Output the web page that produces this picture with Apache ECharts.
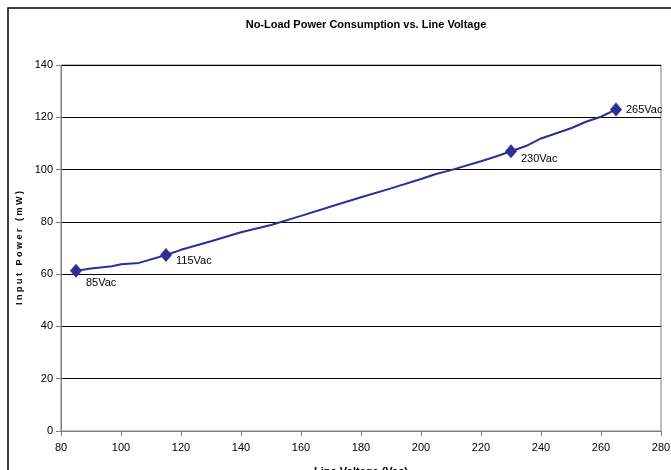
<!DOCTYPE html>
<html>
<head>
<meta charset="utf-8">
<script src="https://cdn.jsdelivr.net/npm/echarts@6/dist/echarts.min.js"></script>
<style>
  html, body { margin: 0; padding: 0; background: #fff; }
  #chart { width: 671px; height: 470px; }
</style>
</head>
<body>
<div id="chart"></div>
<script>
// measured curve (Vac -> mW)
const lineVolts = [85, 90, 97, 100, 106, 115, 120, 130, 140, 150, 160, 170, 180, 190, 200, 205, 210, 220, 225, 230, 235, 240, 250, 255, 260, 265];
const linePower = [61.3, 62.2, 63.0, 63.8, 64.3, 67.3, 69.3, 72.6, 76.0, 78.8, 82.3, 85.9, 89.4, 92.8, 96.4, 98.3, 99.8, 103.2, 105.0, 107.0, 109.0, 111.9, 115.8, 118.3, 120.2, 123.0];

// marked operating points
const markVolts = [85, 115, 230, 265];
const markPower = [61.3, 67.3, 107.0, 123.0];
const markNames = ['85Vac', '115Vac', '230Vac', '265Vac'];
const markOffsets = [[0, 12], [0, 6], [0, 8], [0, 1]];

const chart = echarts.init(document.getElementById('chart'));
const navy = '#2e2e96';
const font = 'Liberation Sans, Arial, sans-serif';

chart.setOption({
  animation: false,
  backgroundColor: '#fff',
  textStyle: { fontFamily: font },
  title: {
    text: 'No-Load Power Consumption vs. Line Voltage',
    left: 361,
    top: 14,
    textAlign: 'center',
    textStyle: { fontSize: 11, fontWeight: 'bold', color: '#000', fontFamily: font },
  },
  graphic: [
    {
      type: 'rect',
      shape: { x: 8, y: 8, width: 700, height: 500 },
      style: { fill: 'none', stroke: '#000', lineWidth: 1.5 },
      silent: true,
    },
  ],
  grid: {
    left: 61, right: 10, top: 65, bottom: 39,
    outerBoundsMode: 'none',
    show: true, borderColor: '#808080', borderWidth: 1,
  },
  xAxis: {
    type: 'value',
    min: 80,
    max: 280,
    interval: 20,
    name: 'Line Voltage (Vac)',
    nameLocation: 'middle',
    nameGap: 35,
    nameTextStyle: { fontSize: 11, fontWeight: 'bold', color: '#000', fontFamily: font },
    axisLine: { lineStyle: { color: '#808080', width: 1 } },
    axisTick: { show: true, length: 5, lineStyle: { color: '#808080' } },
    axisLabel: { fontSize: 11, color: '#000', margin: 11, fontFamily: font },
    splitLine: { show: false },
  },
  yAxis: {
    type: 'value',
    min: 0,
    max: 140,
    interval: 20,
    name: 'I n p u t   P o w e r   ( m W )',
    nameLocation: 'middle',
    nameGap: 34,
    nameRotate: 90,
    nameTextStyle: { fontSize: 9, fontWeight: 'bold', color: '#000', fontFamily: font },
    axisLine: { show: true, lineStyle: { color: '#808080', width: 1 } },
    axisTick: { show: true, length: 5, lineStyle: { color: '#808080' } },
    axisLabel: { fontSize: 11, color: '#000', margin: 8, fontFamily: font },
    splitLine: { show: true, lineStyle: { color: '#000', width: 1 } },
  },
  series: [
    {
      type: 'line',
      data: lineVolts.map((v, i) => [v, linePower[i]]),
      showSymbol: false,
      symbol: 'none',
      lineStyle: { color: navy, width: 2 },
      z: 3,
    },
    {
      type: 'scatter',
      data: markVolts.map((v, i) => ({
        value: [v, markPower[i]],
        name: markNames[i],
        label: { offset: markOffsets[i] },
      })),
      symbol: 'diamond',
      symbolSize: [12, 14],
      itemStyle: { color: navy, opacity: 1 },
      label: {
        show: true,
        position: 'right',
        distance: 4,
        formatter: (p) => p.name,
        fontSize: 11,
        color: '#000',
        fontFamily: font,
      },
      z: 4,
    },
  ],
});
</script>
</body>
</html>
